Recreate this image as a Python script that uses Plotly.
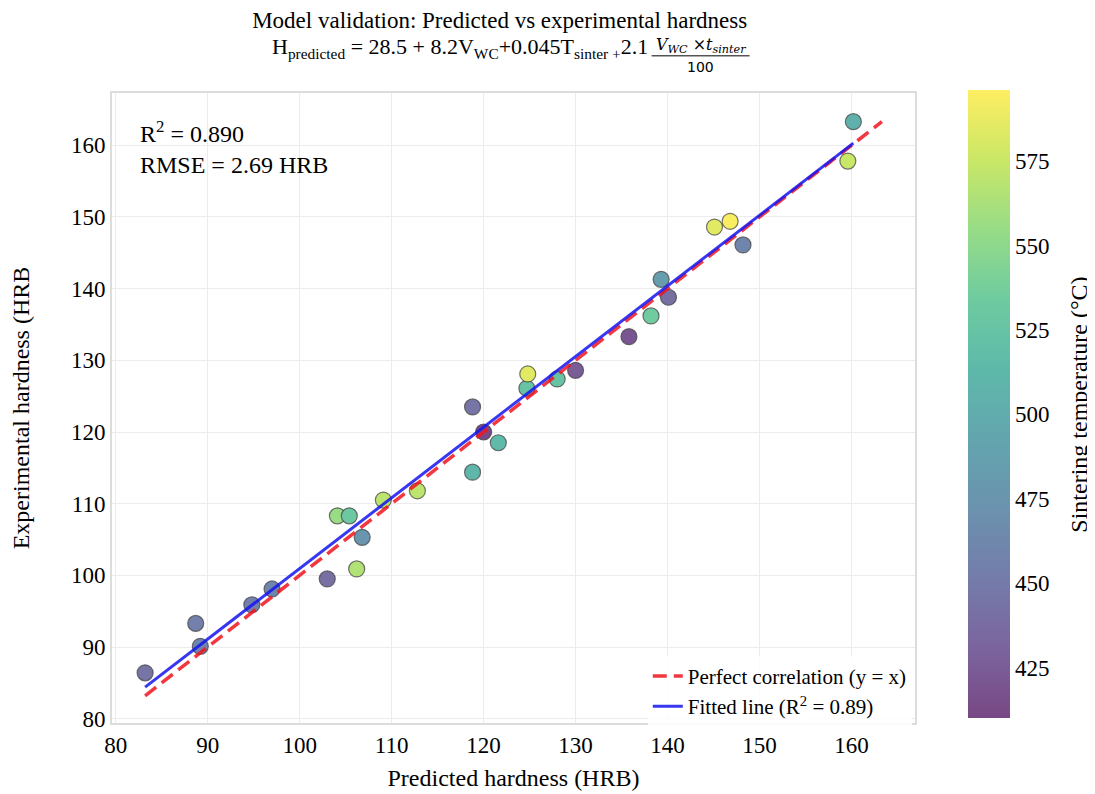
import plotly.graph_objects as go
import plotly.colors as pc

# ---- data ----
predicted = [83.2, 88.7, 89.2, 94.8, 97.0, 103.0, 106.2, 104.1, 105.4, 106.8,
             109.1, 112.8, 118.8, 118.8, 120.0, 121.6, 124.7, 124.8, 128.0, 130.0,
             135.8, 138.2, 139.3, 140.1, 148.2, 145.1, 146.8, 159.6, 160.2]
experimental = [86.4, 93.3, 90.1, 95.9, 98.1, 99.5, 100.9, 108.3, 108.3, 105.3,
                110.5, 111.8, 114.4, 123.5, 120.0, 118.5, 126.1, 128.1, 127.4, 128.6,
                133.3, 136.2, 141.3, 138.8, 146.1, 148.6, 149.4, 157.8, 163.3]
sinter_temp = [445, 455, 460, 455, 460, 440, 565, 555, 530, 475,
               570, 570, 510, 445, 411, 515, 525, 585, 525, 425,
               420, 535, 485, 440, 460, 585, 594, 575, 505]

perfect_x = [83.2, 163.3]
perfect_y = [83.2, 163.3]
fit_x = [83.2, 160.2]
fit_y = [84.4, 160.3]

x_ticks = [80, 90, 100, 110, 120, 130, 140, 150, 160]
y_ticks = [80, 90, 100, 110, 120, 130, 140, 150, 160]
cbar_ticks = [425, 450, 475, 500, 525, 550, 575]

FONT = "Liberation Serif, Times New Roman, serif"

# viridis blended with white (alpha look)
alpha = 0.72
vir = pc.sequential.Viridis
scale = []
for i, c in enumerate(vir):
    r, g, b = pc.hex_to_rgb(c)
    r = round(alpha * r + (1 - alpha) * 255)
    g = round(alpha * g + (1 - alpha) * 255)
    b = round(alpha * b + (1 - alpha) * 255)
    scale.append([i / (len(vir) - 1), f"rgb({r},{g},{b})"])

fig = go.Figure()

fig.add_trace(go.Scatter(
    x=predicted, y=experimental, mode="markers", showlegend=False,
    marker=dict(size=16, color=sinter_temp, colorscale=scale, cmin=410, cmax=596,
                line=dict(color="rgba(70,70,70,0.75)", width=1.2),
                colorbar=dict(
                    tickvals=cbar_ticks, ticks="", outlinewidth=0,
                    tickfont=dict(family=FONT, size=23, color="black"),
                    thickness=42, len=628, lenmode="pixels",
                    xpad=0, ypad=0,
                    x=1.066, xanchor="left", y=0.506, yanchor="middle"))))

fig.add_trace(go.Scatter(
    x=perfect_x, y=perfect_y, mode="lines", name="Perfect correlation (y = x)",
    line=dict(color="rgba(240,20,30,0.85)", width=3.5, dash="14px,7px")))

fig.add_trace(go.Scatter(
    x=fit_x, y=fit_y, mode="lines", name="Fitted line (R<sup>2</sup> = 0.89)",
    line=dict(color="rgba(20,20,240,0.85)", width=3)))

axis_common = dict(showgrid=True, gridcolor="#ececec", gridwidth=1,
                   showline=True, linecolor="#dcdcdc", linewidth=2, mirror=True,
                   zeroline=False, ticks="", automargin=False,
                   tickfont=dict(family=FONT, size=23, color="black"))

fig.update_xaxes(range=[79.6, 166.9], tickvals=x_ticks,
                 title=dict(text="Predicted hardness (HRB)",
                            font=dict(family=FONT, size=24, color="black"), standoff=13),
                 **axis_common)
fig.update_yaxes(range=[79.4, 167.3], tickvals=y_ticks,
                 title=dict(text="Experimental hardness (HRB",
                            font=dict(family=FONT, size=24, color="black"), standoff=42),
                 **axis_common)

# colorbar title
fig.add_annotation(xref="paper", yref="paper", x=1.204, y=0.505,
                   xanchor="center", yanchor="middle", showarrow=False, textangle=-90,
                   text="Sintering temperature (°C)",
                   font=dict(family=FONT, size=24, color="black"))

fig.add_annotation(xref="paper", yref="paper", x=0.032, y=0.965,
                   xanchor="left", yanchor="top", align="left", showarrow=False,
                   text="R<sup>2</sup> = 0.890<br>RMSE = 2.69 HRB",
                   font=dict(family=FONT, size=24, color="black"))

# formula line
fig.add_annotation(xref="paper", yref="paper", x=0.670, y=1.071,
                   xanchor="right", yanchor="middle", showarrow=False,
                   text="H<sub>predicted</sub> = 28.5 + 8.2V<sub>WC</sub>+0.045T<sub>sinter +</sub>2.1",
                   font=dict(family=FONT, size=22, color="black"))
fig.add_annotation(xref="paper", yref="paper", x=0.733, y=1.075,
                   xanchor="center", yanchor="middle", showarrow=False, borderpad=0,
                   text="<i>V<sub>WC</sub> ×t<sub>sinter</sub></i>",
                   font=dict(family="DejaVu Serif, serif", size=16, color="black"))
fig.add_annotation(xref="paper", yref="paper", x=0.733, y=1.042,
                   xanchor="center", yanchor="middle", showarrow=False, borderpad=0,
                   text="100",
                   font=dict(family="DejaVu Sans, sans-serif", size=14, color="black"))
fig.add_shape(type="line", xref="paper", yref="paper", x0=0.672, x1=0.794,
              y0=1.059, y1=1.059, line=dict(color="black", width=1))

fig.update_layout(
    width=1095, height=794,
    margin=dict(l=104, r=188, t=85, b=79, autoexpand=False),
    paper_bgcolor="white", plot_bgcolor="white",
    font=dict(family=FONT, color="black"),
    title=dict(text="Model validation: Predicted vs experimental hardness",
               x=0.449, xanchor="center", xref="container",
               y=0.985, yanchor="middle", yref="container",
               font=dict(family=FONT, size=23, color="black")),
    legend=dict(x=0.996, y=-0.006, xanchor="right", yanchor="bottom",
                bgcolor="rgba(255,255,255,0.85)",
                font=dict(family=FONT, size=21, color="black"),
                tracegroupgap=0),
)

fig.write_html("out.html")
